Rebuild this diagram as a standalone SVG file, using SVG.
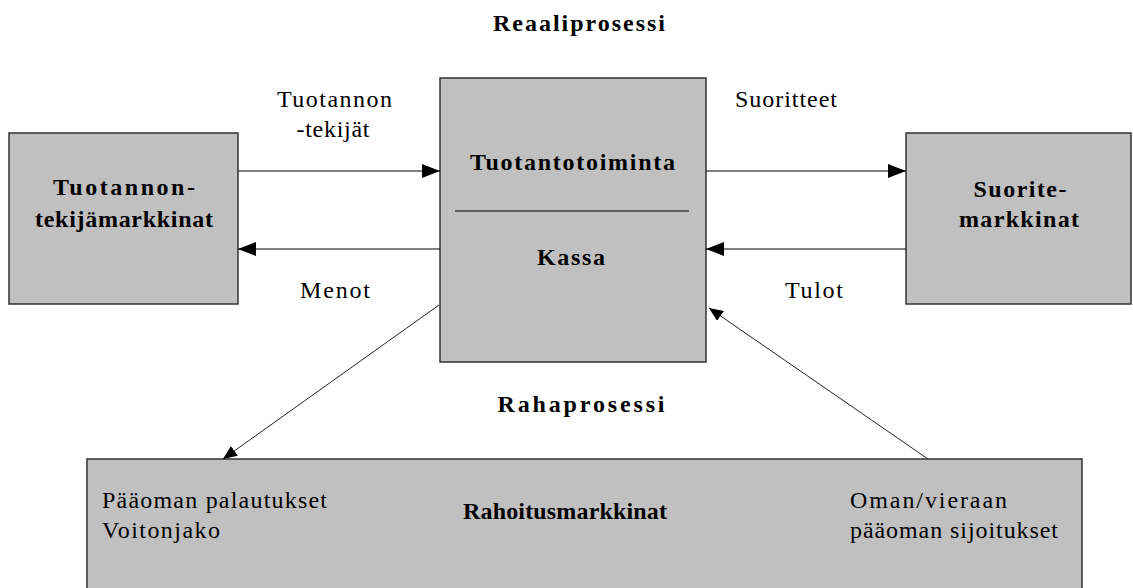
<svg xmlns="http://www.w3.org/2000/svg" width="1133" height="588" viewBox="0 0 1133 588">
<style>
.box{fill:#c0c0c0;stroke:#333;stroke-width:1.5}
.t{font-family:"Liberation Serif","DejaVu Serif",serif;font-size:24px;fill:#000}
.b{font-weight:bold}
.m{text-anchor:middle}
.ln{stroke:#000;stroke-width:1.2;fill:none}
.dg{stroke:#222;stroke-width:1;fill:none}
</style>
<defs>
<marker id="ah" markerUnits="userSpaceOnUse" viewBox="0 0 18 14" refX="18" refY="7" markerWidth="18" markerHeight="14" orient="auto"><path d="M0,0L18,7L0,14z" fill="#000"/></marker>
<marker id="ahs" markerUnits="userSpaceOnUse" viewBox="0 0 14 12" refX="14" refY="6" markerWidth="14" markerHeight="12" orient="auto"><path d="M0,0L14,6L0,12z" fill="#000"/></marker>
</defs>
<rect width="1133" height="588" fill="#fff"/>
<text class="t b m" x="579" y="31" textLength="172" lengthAdjust="spacing">Reaaliprosessi</text>
<text class="t b m" x="581" y="412" textLength="167" lengthAdjust="spacing">Rahaprosessi</text>
<g id="tuotannontekijamarkkinat">
<rect class="box" x="9" y="133" width="229" height="171"/>
<text class="t b m" x="124" y="195" textLength="142" lengthAdjust="spacing">Tuotannon-</text>
<text class="t b m" x="124" y="227" textLength="178" lengthAdjust="spacing">tekijämarkkinat</text>
</g>
<g id="tuotantotoiminta">
<rect class="box" x="440" y="78" width="266" height="284"/>
<text class="t b m" x="572.5" y="170" textLength="205" lengthAdjust="spacing">Tuotantotoiminta</text>
<line x1="455" y1="211" x2="689" y2="211" stroke="#000" stroke-width="1.2"/>
<text class="t b m" x="571" y="265" textLength="68" lengthAdjust="spacing">Kassa</text>
</g>
<g id="suoritemarkkinat">
<rect class="box" x="906" y="133" width="225" height="171"/>
<text class="t b m" x="1020" y="197" textLength="93" lengthAdjust="spacing">Suorite-</text>
<text class="t b m" x="1019" y="227" textLength="120" lengthAdjust="spacing">markkinat</text>
</g>
<g id="rahoitusmarkkinat">
<rect class="box" x="87" y="459" width="995" height="140"/>
<text class="t" x="102" y="508" textLength="225" lengthAdjust="spacing">Pääoman palautukset</text>
<text class="t" x="102" y="538" textLength="118" lengthAdjust="spacing">Voitonjako</text>
<text class="t b m" x="565" y="519" textLength="204" lengthAdjust="spacing">Rahoitusmarkkinat</text>
<text class="t" x="850" y="508" textLength="157" lengthAdjust="spacing">Oman/vieraan</text>
<text class="t" x="850" y="538" textLength="208" lengthAdjust="spacing">pääoman sijoitukset</text>
</g>
<g id="connectors">
<line class="ln" x1="238" y1="171" x2="440" y2="171" marker-end="url(#ah)"/>
<line class="ln" x1="440" y1="249" x2="238" y2="249" marker-end="url(#ah)"/>
<line class="ln" x1="706" y1="171" x2="906" y2="171" marker-end="url(#ah)"/>
<line class="ln" x1="906" y1="249" x2="706" y2="249" marker-end="url(#ah)"/>
<line class="dg" x1="439" y1="305" x2="223" y2="459" marker-end="url(#ahs)"/>
<line class="dg" x1="928" y1="459" x2="709" y2="308" marker-end="url(#ahs)"/>
<text class="t m" x="334.5" y="107" textLength="115" lengthAdjust="spacing">Tuotannon</text>
<text class="t m" x="333" y="137" textLength="73" lengthAdjust="spacing">-tekijät</text>
<text class="t" x="735" y="107" textLength="102" lengthAdjust="spacing">Suoritteet</text>
<text class="t m" x="335" y="298" textLength="70" lengthAdjust="spacing">Menot</text>
<text class="t m" x="814" y="298" textLength="58" lengthAdjust="spacing">Tulot</text>
</g>
</svg>
